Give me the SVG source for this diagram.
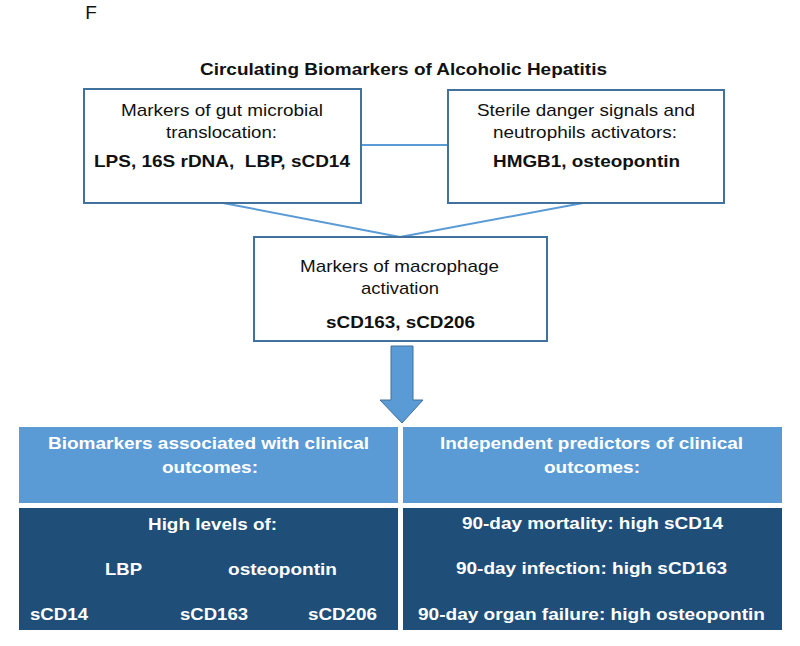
<svg xmlns="http://www.w3.org/2000/svg" width="800" height="646" viewBox="0 0 800 646">
<style>
text{font-family:"Liberation Sans",Arial,sans-serif;text-anchor:middle}
.n{font-size:17px;fill:#111}
.b{font-size:17px;font-weight:bold;fill:#111}
.w{font-size:17px;font-weight:bold;fill:#fff}
.box{fill:#fff;stroke:#41719c;stroke-width:2}
.con{stroke:#5b9bd5;stroke-width:2;fill:none}
.hd{fill:#5b9bd5}
.dk{fill:#1f4e79}
</style>
<rect width="800" height="646" fill="#fff"/>
<text x="91" y="19" style="font-size:19px;fill:#111">F</text>
<text x="403.5" y="75" class="b" textLength="407" lengthAdjust="spacingAndGlyphs">Circulating Biomarkers of Alcoholic Hepatitis</text>
<g id="connectors">
<line class="con" x1="361" y1="145" x2="448" y2="145"/>
<line class="con" x1="223" y1="203" x2="400" y2="237"/>
<line class="con" x1="583" y1="203" x2="400" y2="237"/>
<path d="M391,346 H413 V400 H423 L402,423 L380,400 H391 Z" fill="#5b9bd5" stroke="#41719c" stroke-width="1"/>
</g>
<g id="gut">
<rect class="box" x="84" y="89" width="277" height="114"/>
<text x="222" y="116" class="n" textLength="202" lengthAdjust="spacingAndGlyphs">Markers of gut microbial</text>
<text x="221.5" y="138" class="n" textLength="111" lengthAdjust="spacingAndGlyphs">translocation:</text>
<text x="222" y="167" class="b" textLength="256" lengthAdjust="spacingAndGlyphs">LPS, 16S rDNA, &#160;LBP, sCD14</text>
</g>
<g id="sterile">
<rect class="box" x="448" y="90" width="276" height="113"/>
<text x="586" y="116" class="n" textLength="218" lengthAdjust="spacingAndGlyphs">Sterile danger signals and</text>
<text x="585" y="138" class="n" textLength="184" lengthAdjust="spacingAndGlyphs">neutrophils activators:</text>
<text x="586.5" y="167" class="b" textLength="187" lengthAdjust="spacingAndGlyphs">HMGB1, osteopontin</text>
</g>
<g id="macrophage">
<rect class="box" x="254" y="237" width="293" height="104"/>
<text x="399.5" y="272" class="n" textLength="199" lengthAdjust="spacingAndGlyphs">Markers of macrophage</text>
<text x="400" y="294" class="n" textLength="78" lengthAdjust="spacingAndGlyphs">activation</text>
<text x="400.5" y="328" class="b" textLength="149" lengthAdjust="spacingAndGlyphs">sCD163, sCD206</text>
</g>
<g id="assoc-header">
<rect class="hd" x="19" y="427" width="379" height="76"/>
<text x="208.5" y="449" class="w" textLength="321" lengthAdjust="spacingAndGlyphs">Biomarkers associated with clinical</text>
<text x="210" y="473" class="w" textLength="96" lengthAdjust="spacingAndGlyphs">outcomes:</text>
</g>
<g id="assoc-body">
<rect class="dk" x="19" y="508" width="379" height="122"/>
<text x="212.5" y="530" class="w" textLength="129" lengthAdjust="spacingAndGlyphs">High levels of:</text>
<text x="123.5" y="575" class="w" textLength="37" lengthAdjust="spacingAndGlyphs">LBP</text>
<text x="282.5" y="575" class="w" textLength="109" lengthAdjust="spacingAndGlyphs">osteopontin</text>
<text x="59" y="620" class="w" textLength="58" lengthAdjust="spacingAndGlyphs">sCD14</text>
<text x="214" y="620" class="w" textLength="68" lengthAdjust="spacingAndGlyphs">sCD163</text>
<text x="342.5" y="620" class="w" textLength="69" lengthAdjust="spacingAndGlyphs">sCD206</text>
</g>
<g id="pred-header">
<rect class="hd" x="403" y="427" width="379" height="76"/>
<text x="591.5" y="449" class="w" textLength="303" lengthAdjust="spacingAndGlyphs">Independent predictors of clinical</text>
<text x="592" y="473" class="w" textLength="96" lengthAdjust="spacingAndGlyphs">outcomes:</text>
</g>
<g id="pred-body">
<rect class="dk" x="403" y="508" width="379" height="122"/>
<text x="592.5" y="529" class="w" textLength="261" lengthAdjust="spacingAndGlyphs">90-day mortality: high sCD14</text>
<text x="591.5" y="574" class="w" textLength="271" lengthAdjust="spacingAndGlyphs">90-day infection: high sCD163</text>
<text x="591.5" y="620" class="w" textLength="347" lengthAdjust="spacingAndGlyphs">90-day organ failure: high osteopontin</text>
</g>
</svg>
